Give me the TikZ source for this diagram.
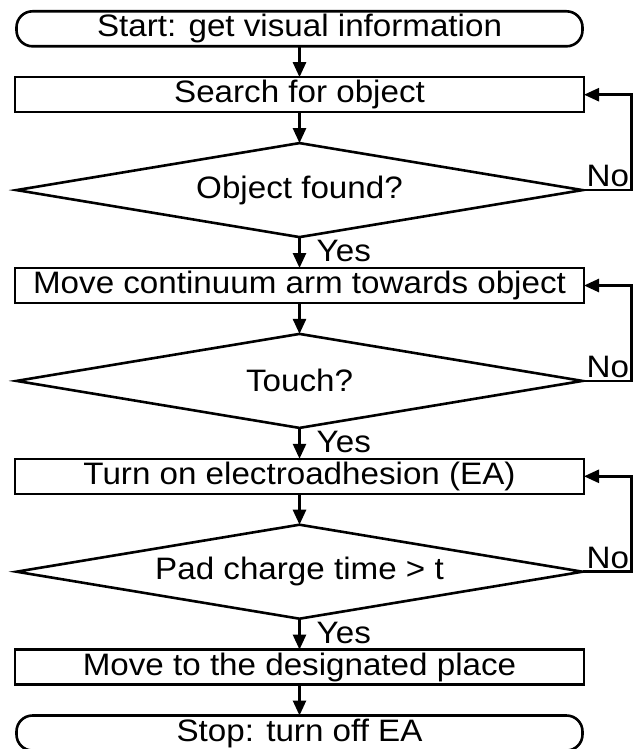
\documentclass[tikz,border=0pt]{standalone}
\usepackage{fontspec}
\setmainfont{Liberation Sans}[FakeStretch=1.07]
\usetikzlibrary{arrows.meta,positioning,shapes.geometric}

\begin{document}
\begin{tikzpicture}[
  x=1pt,y=1pt,
  term/.style={rounded corners=16pt,draw,line width=2.6pt,outer sep=0pt,
               minimum width=566pt,minimum height=35pt,inner sep=0pt},
  box/.style={draw,line width=2.6pt,outer sep=0pt,
              minimum width=569pt,minimum height=35pt,inner sep=0pt},
  test/.style={diamond,aspect=6,draw,line width=2.6pt,outer sep=0pt,
               minimum width=566pt,minimum height=94pt,inner sep=0pt},
  arr/.style={-{Triangle[length=15pt,width=13pt]},line width=2.6pt},
  lbl/.style={inner sep=0pt},
  node distance=30.9pt,
  font=\fontsize{31}{36}\selectfont
]
\useasboundingbox (0,0) rectangle (639,-749);
\node[term] (start) at (299.5,-28.8) {Start: get visual information};
\node[box,below=of start] (search) {Search for object};
\node[test,below=of search] (found) {Object found?};
\node[box,below=of found] (reach) {Move continuum arm towards object};
\node[test,below=of reach] (touch) {Touch?};
\node[box,below=of touch] (eaon) {Turn on electroadhesion (EA)};
\node[test,below=of eaon] (charge) {Pad charge time > t};
\node[box,below=of charge] (place) {Move to the designated place};
\node[term,below=of place] (stop) {Stop: turn off EA};
% main line
\draw[arr] (start) -- (search);
\draw[arr] (search) -- (found);
\draw[arr] (found) -- (reach);
\draw[arr] (reach) -- (touch);
\draw[arr] (touch) -- (eaon);
\draw[arr] (eaon) -- (charge);
\draw[arr] (charge) -- (place);
\draw[arr] (place) -- (stop);
\node[lbl,anchor=north west] (yes1) at ([xshift=17pt,yshift=-3pt]found.south) {Yes};
\node[lbl,anchor=north west] (yes2) at ([xshift=17pt,yshift=-3pt]touch.south) {Yes};
\node[lbl,anchor=north west] (yes3) at ([xshift=17pt,yshift=-3pt]charge.south) {Yes};
% loops back
\coordinate (foundRoute) at ([xshift=49pt]found.east);
\coordinate (touchRoute) at ([xshift=49pt]touch.east);
\coordinate (chargeRoute) at ([xshift=49pt]charge.east);
\draw[arr] (found.east) -- (foundRoute) |- (search.east);
\draw[arr] (touch.east) -- (touchRoute) |- (reach.east);
\draw[arr] (charge.east) -- (chargeRoute) |- (eaon.east);
\node[lbl,anchor=south west] (no1) at ([xshift=4pt,yshift=3pt]found.east) {No};
\node[lbl,anchor=south west] (no2) at ([xshift=4pt,yshift=3pt]touch.east) {No};
\node[lbl,anchor=south west] (no3) at ([xshift=4pt,yshift=3pt]charge.east) {No};
\end{tikzpicture}
\end{document}
